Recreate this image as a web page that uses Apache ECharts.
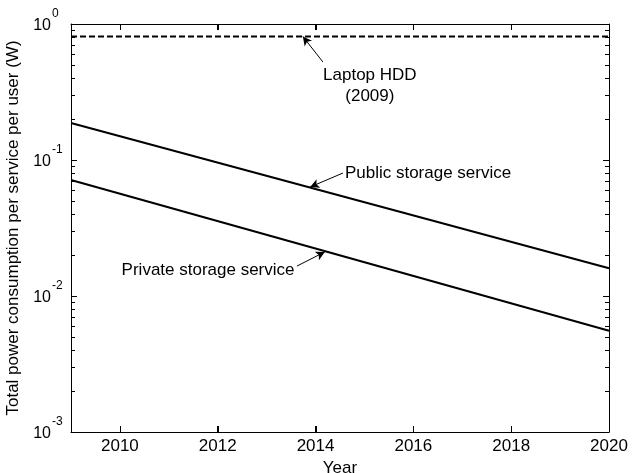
<!DOCTYPE html>
<html>
<head>
<meta charset="utf-8">
<script src="https://cdn.jsdelivr.net/npm/echarts@6/dist/echarts.min.js"></script>
<style>
  html, body { margin: 0; padding: 0; background: #fff; }
  #chart { width: 639px; height: 473px; }
</style>
</head>
<body>
<div id="chart"></div>
<script>
// 数据
const years = [2009, 2020];
const publicStorage = [0.187, 0.016];
const privateStorage = [0.0713, 0.00556];
const laptopHdd = [0.81, 0.81];
const xTickValues = [2010, 2012, 2014, 2016, 2018, 2020];
const yDecadeExponents = [-3, -2, -1, 0];
const yMinorFactors = [2, 3, 4, 5, 6, 7, 8, 9];

const FONT = "Liberation Sans, Arial, sans-serif";

// 对数次刻度 (以 log10 表示)
let yMinorTickLogs = [];
[-3, -2, -1].forEach((d) => {
  yMinorFactors.forEach((f) => {
    yMinorTickLogs.push(d + Math.log10(f));
  });
});

function toPairs(xs, ys) {
  return xs.map((x, i) => [x, ys[i]]);
}

const chart = echarts.init(document.getElementById("chart"));

const tickStyle = { color: "#000", width: 1 };

const option = {
  animation: false,
  backgroundColor: "#fff",
  grid: { left: 71, right: 30, top: 24, bottom: 41, containLabel: false, outerBoundsMode: "none" },
  xAxis: [
    {
      type: "value",
      min: 2009,
      max: 2020,
      position: "bottom",
      splitLine: { show: false },
      axisLine: { show: true, onZero: false, lineStyle: tickStyle },
      axisTick: { show: true, inside: true, length: 6, customValues: xTickValues, lineStyle: tickStyle },
      name: "Year",
      nameLocation: "middle",
      nameGap: 25,
      nameTextStyle: { color: "#000", fontSize: 17, fontFamily: FONT },
      axisLabel: {
        show: true,
        customValues: xTickValues,
        formatter: (v) => String(v),
        margin: 6,
        color: "#000",
        fontSize: 17,
        fontFamily: FONT,
      },
    },
    {
      type: "value",
      min: 2009,
      max: 2020,
      position: "top",
      splitLine: { show: false },
      axisLine: { show: true, onZero: false, lineStyle: tickStyle },
      axisTick: { show: true, inside: true, length: 6, customValues: xTickValues, lineStyle: tickStyle },
      axisLabel: { show: false },
    },
  ],
  yAxis: [
    {
      type: "log",
      logBase: 10,
      min: 0.001,
      max: 1,
      position: "left",
      splitLine: { show: false },
      axisLine: { show: true, onZero: false, lineStyle: tickStyle },
      axisTick: { show: true, inside: true, length: 6, lineStyle: tickStyle },
      name: "Total power consumption per service per user (W)",
      nameLocation: "middle",
      nameGap: 31,
      nameTextStyle: { color: "#000", fontSize: 17, fontFamily: FONT },
      axisLabel: {
        show: true,
        margin: 20,
        formatter: () => "{b|10}",
        rich: {
          b: { color: "#000", fontSize: 16, fontFamily: FONT, padding: [3, 0, 0, 0] },
        },
      },
    },
    {
      type: "log",
      logBase: 10,
      min: 0.001,
      max: 1,
      position: "right",
      splitLine: { show: false },
      axisLine: { show: true, onZero: false, lineStyle: tickStyle },
      axisTick: { show: true, inside: true, length: 6, lineStyle: tickStyle },
      axisLabel: { show: false },
    },
    {
      // 次刻度 + 指数上标
      type: "value",
      min: -3,
      max: 0,
      position: "left",
      splitLine: { show: false },
      axisLine: { show: false, onZero: false },
      axisLabel: {
        show: true,
        customValues: yDecadeExponents,
        formatter: (v) => "{s|" + v + "}",
        align: "left",
        margin: 19,
        rich: {
          s: { color: "#000", fontSize: 12, fontFamily: FONT, padding: [0, 0, 20, 0] },
        },
      },
      axisTick: { show: true, inside: true, length: 4, customValues: yMinorTickLogs, lineStyle: tickStyle },
    },
    {
      type: "value",
      min: -3,
      max: 0,
      position: "right",
      splitLine: { show: false },
      axisLine: { show: false, onZero: false },
      axisLabel: { show: false },
      axisTick: { show: true, inside: true, length: 4, customValues: yMinorTickLogs, lineStyle: tickStyle },
    },
  ],
  series: [
    {
      name: "Laptop HDD",
      type: "line",
      showSymbol: false,
      data: toPairs(years, laptopHdd),
      lineStyle: { color: "#000", width: 2, type: [6, 3] },
      markLine: {
        silent: true,
        symbol: ["none", "arrow"],
        symbolSize: [7, 9],
        label: { show: false },
        lineStyle: { color: "#000", width: 1, type: "solid" },
        data: [[{ coord: [2014.15, 0.526] }, { coord: [2013.74, 0.81] }]],
      },
    },
    {
      name: "Public storage service",
      type: "line",
      showSymbol: false,
      data: toPairs(years, publicStorage),
      lineStyle: { color: "#000", width: 2 },
      markLine: {
        silent: true,
        symbol: ["none", "arrow"],
        symbolSize: [7, 9],
        label: { show: false },
        lineStyle: { color: "#000", width: 1, type: "solid" },
        data: [[{ coord: [2014.56, 0.0802] }, { coord: [2013.89, 0.0633] }]],
      },
    },
    {
      name: "Private storage service",
      type: "line",
      showSymbol: false,
      data: toPairs(years, privateStorage),
      lineStyle: { color: "#000", width: 2 },
      markLine: {
        silent: true,
        symbol: ["none", "arrow"],
        symbolSize: [7, 9],
        label: { show: false },
        lineStyle: { color: "#000", width: 1, type: "solid" },
        data: [[{ coord: [2013.62, 0.0166] }, { coord: [2014.19, 0.0211] }]],
      },
    },
    {
      // x 轴刻度 (上下框线内侧)
      name: "xTicks",
      type: "custom",
      silent: true,
      clip: false,
      xAxisIndex: 0,
      yAxisIndex: 0,
      dimensions: ["year"],
      encode: { x: 0 },
      data: xTickValues.map((v) => [v]),
      renderItem: (params, api) => {
        const x = api.value(0);
        const b = api.coord([x, 0.001]);
        const t = api.coord([x, 1]);
        const px = Math.round(b[0]) + 0.5;
        return {
          type: "group",
          children: [
            { type: "line", shape: { x1: px, y1: b[1], x2: px, y2: b[1] - 6 }, style: { stroke: "#000", lineWidth: 1 } },
            { type: "line", shape: { x1: px, y1: t[1], x2: px, y2: t[1] + 6 }, style: { stroke: "#000", lineWidth: 1 } },
          ],
        };
      },
    },
  ],
};
chart.setOption(option);

// 注释文字
const notes = [
  { text: "Laptop HDD\n(2009)", at: [2015.11, 0.35], align: "center" },
  { text: "Public storage service", at: [2014.6, 0.0802], align: "left" },
  { text: "Private storage service", at: [2013.57, 0.0155], align: "right" },
];
chart.setOption({
  graphic: notes.map((n) => {
    const p = chart.convertToPixel({ xAxisIndex: 0, yAxisIndex: 0 }, n.at);
    return {
      type: "text",
      x: p[0],
      y: p[1],
      silent: true,
      style: {
        text: n.text,
        fill: "#000",
        font: "17px " + FONT,
        lineHeight: 21,
        align: n.align,
        verticalAlign: "middle",
      },
    };
  }),
});
</script>
</body>
</html>
